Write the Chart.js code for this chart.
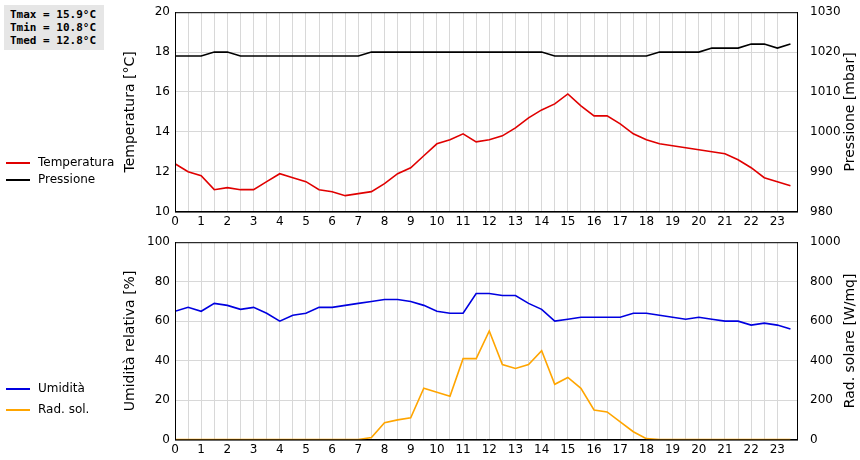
<!DOCTYPE html>
<html><head><meta charset="utf-8">
<script src="https://cdn.jsdelivr.net/npm/chart.js@4"></script>
<style>
body{margin:0;background:#fff;font-family:"DejaVu Sans",sans-serif;}
#wrap{position:relative;width:860px;height:460px;}
canvas{position:absolute;left:0;}
#stats{position:absolute;left:4px;top:5px;background:#e6e6e6;font:bold 11px "DejaVu Sans Mono",monospace;padding:3px 8px 3px 6px;line-height:13px;}
.leg{position:absolute;left:6px;font-size:12px;}
.leg span{display:inline-block;width:24px;height:2px;vertical-align:middle;margin-right:8px;}
</style></head><body>
<div id="wrap">
<canvas id="top" width="860" height="232" style="top:0"></canvas>
<canvas id="bot" width="860" height="230" style="top:230px"></canvas>
<div id="stats">Tmax = 15.9°C<br>Tmin = 10.8°C<br>Tmed = 12.8°C</div>
<div class="leg" style="top:155px"><span style="background:#e00000"></span>Temperatura</div>
<div class="leg" style="top:172px"><span style="background:#000"></span>Pressione</div>
<div class="leg" style="top:381px"><span style="background:#0000e0"></span>Umidità</div>
<div class="leg" style="top:402px"><span style="background:#ffa500"></span>Rad. sol.</div>
</div>
<script>
const ore = [];
for (let i = 0; i < 48; i++) ore.push(i / 2);
const temperatura = [12.4,12.0,11.8,11.1,11.2,11.1,11.1,11.5,11.9,11.7,11.5,11.1,11.0,10.8,10.9,11.0,11.4,11.9,12.2,12.8,13.4,13.6,13.9,13.5,13.6,13.8,14.2,14.7,15.1,15.4,15.9,15.3,14.8,14.8,14.4,13.9,13.6,13.4,13.3,13.2,13.1,13.0,12.9,12.6,12.2,11.7,11.5,11.3];
const pressione = [1019,1019,1019,1020,1020,1019,1019,1019,1019,1019,1019,1019,1019,1019,1019,1020,1020,1020,1020,1020,1020,1020,1020,1020,1020,1020,1020,1020,1020,1019,1019,1019,1019,1019,1019,1019,1019,1020,1020,1020,1020,1021,1021,1021,1022,1022,1021,1022];
const umidita = [65,67,65,69,68,66,67,64,60,63,64,67,67,68,69,70,71,71,70,68,65,64,64,74,74,73,73,69,66,60,61,62,62,62,62,64,64,63,62,61,62,61,60,60,58,59,58,56];
const radsol = [0,0,0,0,0,0,0,0,0,0,0,0,0,0,0,10,85,100,110,260,240,220,410,410,550,380,360,380,450,280,315,260,150,140,90,40,5,0,0,0,0,0,0,0,0,0,0,0];

const grigio = '#d8d8d8';
const font = {family:'"DejaVu Sans", sans-serif', size:12};
const titFont = '14px "DejaVu Sans", sans-serif';

function xy(vals){ return vals.map((v,i)=>({x:ore[i], y:v})); }

function grafico(id, ds, yL, yR, titoloR){
  new Chart(document.getElementById(id), {
    type:'line',
    data:{datasets: ds},
    options:{
      responsive:false, animation:false,
      layout:{padding:{left:120, top:11, right:0, bottom:0}},
      plugins:{legend:{display:false}, tooltip:{enabled:false}},
      elements:{point:{radius:0}, line:{borderWidth:1.6, tension:0}},
      scales:{
        x:{type:'linear', min:0, max:23.75,
           grid:{color:grigio, drawTicks:false},
           border:{color:'#000'},
           ticks:{stepSize:0.5, autoSkip:false, color:'#000', font, padding:3, maxRotation:0,
                  callback:v=>Number.isInteger(v)?v:''}},
        yL:Object.assign({position:'left', grid:{color:grigio, drawTicks:false}, border:{color:'#000'},
           afterFit:s=>{s.width=55;}}, yL),
        yR:Object.assign({position:'right', grid:{display:false}, border:{color:'#000'},
           afterFit:s=>{s.width=63;}}, yR)
      }
    },
    plugins:[{id:'bordo', afterDraw(c){
      const a=c.chartArea, g=c.ctx; g.save(); g.strokeStyle='#000'; g.lineWidth=1;
      g.strokeRect(a.left+0.5,a.top+0.5,a.right-a.left,a.bottom-a.top);
      g.translate(850,(a.top+a.bottom)/2); g.rotate(-Math.PI/2);
      g.font=titFont; g.fillStyle='#000'; g.textAlign='center'; g.textBaseline='middle';
      g.fillText(titoloR,0,0); g.restore();}}]
  });
}

const tk = step => ({stepSize:step, color:'#000', font, padding:5, callback:v=>String(v)});

grafico('top', [
  {data:xy(temperatura), borderColor:'#e00000', yAxisID:'yL'},
  {data:xy(pressione), borderColor:'#000000', yAxisID:'yR'}
], {min:10, max:20, ticks:tk(2),
    title:{display:true, text:'Temperatura [°C]', color:'#000', font:{family:font.family, size:14}, padding:2}},
   {min:980, max:1030, ticks:tk(10)}, 'Pressione [mbar]');

grafico('bot', [
  {data:xy(umidita), borderColor:'#0000e0', yAxisID:'yL'},
  {data:xy(radsol), borderColor:'#ffa500', yAxisID:'yR'}
], {min:0, max:100, ticks:tk(20),
    title:{display:true, text:'Umidità relativa [%]', color:'#000', font:{family:font.family, size:14}, padding:2}},
   {min:0, max:1000, ticks:tk(200)}, 'Rad. solare [W/mq]');
</script>
</body></html>
